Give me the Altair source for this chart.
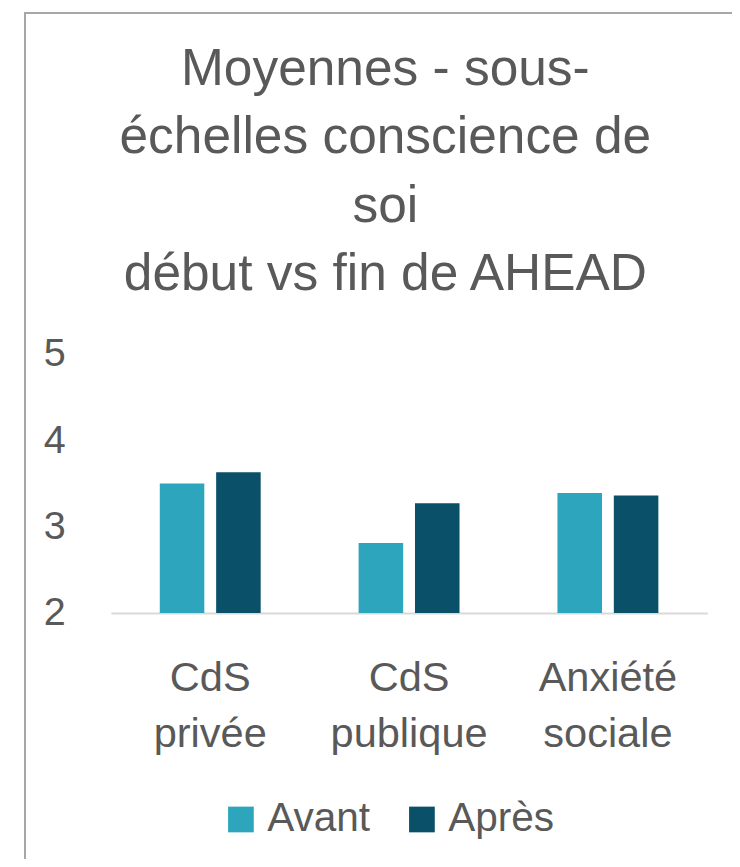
import altair as alt
import pandas as pd

categories = ["CdS privée", "CdS publique", "Anxiété sociale"]
series = ["Avant", "Après"]
avant = [3.50, 2.81, 3.39]
apres = [3.63, 3.27, 3.36]
y_ticks = [2, 3, 4, 5]
title_lines = ["Moyennes - sous-", "échelles conscience de", "soi", "début vs fin de AHEAD"]
colors = ["#2CA5BD", "#0A5069"]

rows = []
for c, a, p in zip(categories, avant, apres):
    rows.append({"cat": c, "serie": "Avant", "val": a})
    rows.append({"cat": c, "serie": "Après", "val": p})
df = pd.DataFrame(rows)

FONT = "Liberation Sans"
TXT = "#595959"

bars = alt.Chart(df).mark_bar(clip=True).encode(
    x=alt.X("cat:N", sort=categories, title=None,
            scale=alt.Scale(paddingInner=0.4925, paddingOuter=0.246),
            axis=alt.Axis(labelAngle=0, labelExpr="split(datum.label, ' ')",
                          labelFontSize=42, labelLineHeight=57, labelColor=TXT,
                          labelFont=FONT, labelPadding=45, ticks=False,
                          domainColor="#D9D9D9", domainWidth=2, grid=False)),
    xOffset=alt.XOffset("serie:N", sort=series,
                        scale=alt.Scale(paddingInner=0.21, paddingOuter=0)),
    y=alt.Y("val:Q", title=None,
            scale=alt.Scale(domain=[2, 5], zero=False, nice=False),
            axis=alt.Axis(values=y_ticks, grid=False, domain=False, ticks=False,
                          labelFontSize=40, labelColor=TXT, labelFont=FONT,
                          labelPadding=46)),
    color=alt.Color("serie:N", sort=series,
                    scale=alt.Scale(domain=series, range=colors),
                    legend=alt.Legend(title=None, orient="none", direction="horizontal",
                                      legendX=111, legendY=450,
                                      symbolType="square", symbolSize=676,
                                      symbolStrokeWidth=0,
                                      labelFontSize=41, labelColor=TXT, labelFont=FONT,
                                      labelOffset=6, columnPadding=31)),
)

border_left = alt.Chart(df).mark_rule(color="#A6A6A6", strokeWidth=1.5).encode(
    x=alt.value(-87), y=alt.value(-345), y2=alt.value(520))
border_top = alt.Chart(df).mark_rule(color="#A6A6A6", strokeWidth=1.5).encode(
    x=alt.value(-87), x2=alt.value(640), y=alt.value(-345))

chart = alt.layer(border_left, border_top, bars).properties(
    width=603, height=262,
    autosize=alt.AutoSizeParams(type="none"),
    padding={"left": 104, "top": 345, "right": 25, "bottom": 244},
    title=alt.TitleParams(text=title_lines, fontSize=52, font=FONT, fontWeight="normal",
                          color=TXT, lineHeight=69, anchor="middle", dx=-24, offset=-292),
).configure_view(stroke=None)

chart.save("out.html", embed_options={"renderer": "svg", "actions": False})
